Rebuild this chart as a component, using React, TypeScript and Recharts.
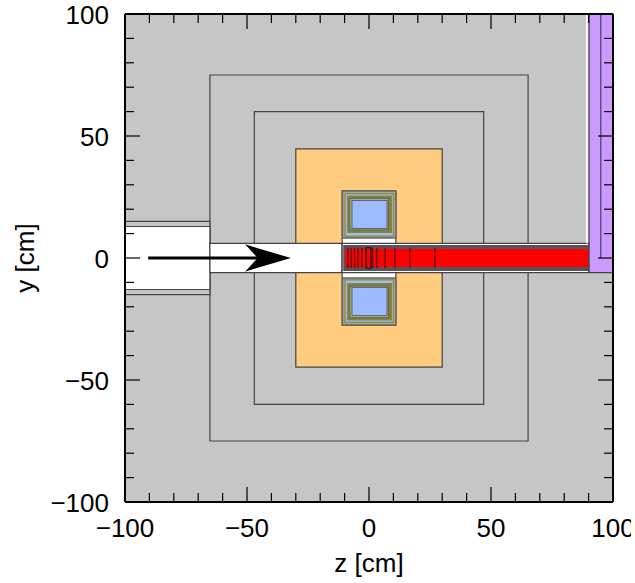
import React from 'react'
import { Area, ComposedChart, Line, ReferenceArea, ReferenceLine, XAxis, YAxis } from 'recharts'

// detector layout, all in cm: [zMin, zMax, yMin, yMax]
const fullRange = [-100, 100, -100, 100]
const outerShield = [-65.2, 65.2, -75, 75]
const innerShield = [-47, 47, -60, 60]
const magnetBody = [-30, 30, -44.7, 44.7]
const beamPipeOuter = [-100, -65.2, -15, 15]
const beamPipeInner = [-100, -65.2, -12.9, 12.9]
const magnetGap = [-11, 11, -27.5, 27.5]
const entryChannel = [-65.2, -11, -6, 6]
const targetChannel = [-11, 90, -6, 6]
const targetFrame = [-10.3, 90, -5.1, 5.1]
const targetCore = [-9.7, 90, -3.7, 3.7]
const targetCell = [-1.2, 0.8, -4.2, 4.2]
const wallGap = [88.9, 89.6, 6, 100]
const wallBlock = [90.2, 100, -6, 100]

// nested coil layers, upper coil; the lower one is its mirror
const coilFrame = [-10.9, 11, 8.2, 27.5]
const coilShell = [-9.8, 10, 9, 26.4]
const coilWindingOuter = [-8.8, 9.2, 10.5, 25.4]
const coilWindingInner = [-7.8, 8, 11.5, 24.4]
const coilCore = [-7, 7.4, 12.1, 23.6]

const ladderZ = [-8.6, -7.25, -5.9, -4.5, -2.9, 1.5, 3.2, 6.6, 10.6, 16.8, 27]
const ladderHalfHeight = 4.2
const wallLineZ = 95
const wallLineY = [0, 100]

const arrowShaft = [
  { z: -90.5, y: 0 },
  { z: -45, y: 0 },
]
const arrowHeadUpper = [
  { z: -50.8, range: [5.6, 5.6] },
  { z: -45.6, range: [0, 4] },
  { z: -32, range: [0, 0] },
]
const arrowHeadLower = [
  { z: -50.8, range: [-5.6, -5.6] },
  { z: -45.6, range: [-4, 0] },
  { z: -32, range: [0, 0] },
]

const ticks = [-100, -90, -80, -70, -60, -50, -40, -30, -20, -10, 0, 10, 20, 30, 40, 50, 60, 70, 80, 90, 100]

const FONT = '"Liberation Sans", Arial, sans-serif'
const FONT_SIZE = 26
const LINE = '#444'
const BLUE = '#9dbcff'

const tickLen = (v: number) => (v % 50 === 0 ? 15 : 9)
const fmt = (v: number) => (v < 0 ? `\u2212${-v}` : `${v}`)

function XTick({ x, y, payload, side }: any) {
  const len = tickLen(payload.value)
  const labelled = side === 'bottom' && payload.value % 50 === 0
  return (
    <g>
      <line x1={x} x2={x} y1={y} y2={side === 'bottom' ? y - len : y + len} stroke="#000" strokeWidth={1.2} />
      {labelled && (
        <text x={x} y={y + 35} textAnchor="middle" fontFamily={FONT} fontSize={FONT_SIZE} fill="#000">
          {fmt(payload.value)}
        </text>
      )}
    </g>
  )
}

function YTick({ x, y, payload, side }: any) {
  const len = tickLen(payload.value)
  const labelled = side === 'left' && payload.value % 50 === 0
  return (
    <g>
      <line x1={x} x2={side === 'left' ? x + len : x - len} y1={y} y2={y} stroke="#000" strokeWidth={1.2} />
      {labelled && (
        <text x={x - 16} y={y + 10} textAnchor="end" fontFamily={FONT} fontSize={FONT_SIZE} fill="#000">
          {fmt(payload.value)}
        </text>
      )}
    </g>
  )
}

function box(b: number[], fill: string, stroke: string, strokeWidth = 1.2) {
  return (
    <ReferenceArea
      key={b.join('_') + fill}
      x1={b[0]}
      x2={b[1]}
      y1={b[2]}
      y2={b[3]}
      fill={fill}
      fillOpacity={1}
      stroke={stroke}
      strokeWidth={strokeWidth}
      ifOverflow="visible"
    />
  )
}

const mirror = (b: number[]) => [b[0], b[1], -b[3], -b[2]]

function coil(flip: boolean) {
  const f = (b: number[]) => (flip ? mirror(b) : b)
  return [
    box(f(coilFrame), '#a8a8a0', '#666', 1.5),
    box(f(coilShell), BLUE, '#8a8a30'),
    box(f(coilWindingOuter), '#7f7f50', '#8a8a20'),
    box(f(coilWindingInner), '#c4c4a0', '#6a6a50'),
    box(f(coilCore), BLUE, '#666'),
  ]
}

export default function App() {
  return (
    <div style={{ position: 'absolute', left: 0, top: 0 }}>
      <ComposedChart width={631} height={583} margin={{ top: 0, right: 0, bottom: 0, left: 0 }}>
        {box(fullRange, '#c6c6c6', 'none')}
        {box(outerShield, '#c6c6c6', LINE)}
        {box(innerShield, '#c6c6c6', LINE)}
        {box(magnetBody, '#ffcc80', LINE)}
        {box(beamPipeOuter, '#c6c6c6', LINE)}
        {box(beamPipeInner, '#ffffff', LINE)}
        {box(entryChannel, '#ffffff', LINE)}
        {box(magnetGap, '#ffffff', LINE)}
        {coil(false)}
        {coil(true)}
        {box(targetChannel, '#ffffff', LINE)}
        {box(targetFrame, '#5a5060', '#555')}
        {box(targetCore, '#ff0000', 'none')}
        {box(wallGap, '#ffffff', 'none')}
        {box(wallBlock, '#cc99ff', LINE)}
        {ladderZ.map((z) => (
          <ReferenceLine
            key={z}
            segment={[
              { x: z, y: -ladderHalfHeight },
              { x: z, y: ladderHalfHeight },
            ]}
            stroke="#701010"
            strokeWidth={1.5}
            ifOverflow="visible"
          />
        ))}
        {box(targetCell, 'none', '#111', 1.2)}
        <ReferenceLine
          segment={[
            { x: wallLineZ, y: wallLineY[0] },
            { x: wallLineZ, y: wallLineY[1] },
          ]}
          stroke="#333"
          strokeWidth={1}
          ifOverflow="visible"
        />
        <Line
          data={arrowShaft}
          dataKey="y"
          stroke="#000"
          strokeWidth={3}
          dot={false}
          legendType="none"
          isAnimationActive={false}
        />
        <Area data={arrowHeadUpper} dataKey="range" type="linear" fill="#000" fillOpacity={1} stroke="none" dot={false} isAnimationActive={false} />
        <Area data={arrowHeadLower} dataKey="range" type="linear" fill="#000" fillOpacity={1} stroke="none" dot={false} isAnimationActive={false} />
        <XAxis
          type="number"
          dataKey="z"
          domain={[-100, 100]}
          ticks={ticks}
          interval={0}
          height={81}
          tickSize={0}
          tickMargin={0}
          tickLine={false}
          axisLine={{ stroke: '#000', strokeWidth: 2 }}
          tick={<XTick side="bottom" />}
          allowDataOverflow
          label={{ value: 'z [cm]', position: 'insideBottom', offset: 11, fontFamily: FONT, fontSize: FONT_SIZE, fill: '#000' }}
        />
        <XAxis
          xAxisId="top"
          orientation="top"
          type="number"
          dataKey="z"
          domain={[-100, 100]}
          ticks={ticks}
          interval={0}
          height={14}
          tickSize={0}
          tickMargin={0}
          tickLine={false}
          axisLine={{ stroke: '#000', strokeWidth: 2 }}
          tick={<XTick side="top" />}
          allowDataOverflow
        />
        <YAxis
          type="number"
          domain={[-100, 100]}
          ticks={ticks}
          interval={0}
          width={125}
          tickSize={0}
          tickMargin={0}
          tickLine={false}
          axisLine={{ stroke: '#000', strokeWidth: 2 }}
          tick={<YTick side="left" />}
          allowDataOverflow
          label={{ value: 'y [cm]', angle: -90, position: 'insideLeft', offset: 25, fontFamily: FONT, fontSize: FONT_SIZE, fill: '#000', style: { textAnchor: 'middle' } }}
        />
        <YAxis
          yAxisId="right"
          orientation="right"
          type="number"
          domain={[-100, 100]}
          ticks={ticks}
          interval={0}
          width={18}
          tickSize={0}
          tickMargin={0}
          tickLine={false}
          axisLine={{ stroke: '#000', strokeWidth: 2 }}
          tick={<YTick side="right" />}
          allowDataOverflow
        />
      </ComposedChart>
    </div>
  )
}
